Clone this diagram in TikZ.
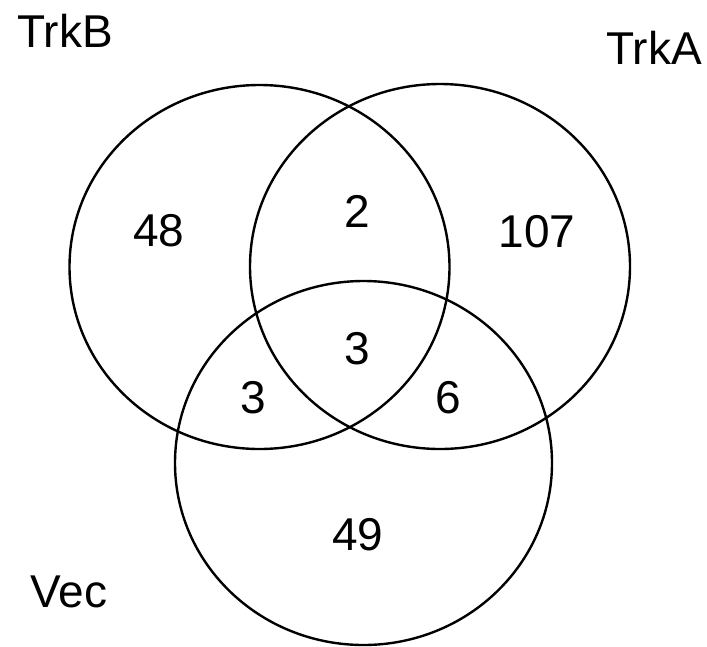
\documentclass[tikz,border=0pt]{standalone}
\usepackage{fontspec}
\setmainfont{Liberation Sans}
\begin{document}
\begin{tikzpicture}[x=1pt,y=-1pt,
  venn/.style={draw=black, line width=2.4pt},
  lbl/.style={anchor=base, inner sep=0pt, font=\fontsize{46}{46}\selectfont}]
\useasboundingbox (0,0) rectangle (707,646);
\fill[white] (0,0) rectangle (707,646);
% sets
\draw[venn] (259.5,267) ellipse [x radius=190pt, y radius=182pt];
\draw[venn] (440,266.5) ellipse [x radius=190pt, y radius=182.5pt];
\draw[venn] (363.5,463) ellipse [x radius=188.5pt, y radius=182pt];
% set names
\node[lbl] (nB) at (65,47) {TrkB};
\node[lbl] (nA) at (654,64) {TrkA};
\node[lbl] (nV) at (69,607) {Vec};
% counts
\node[lbl] (c48) at (159,246) {48};
\node[lbl] (c2) at (357,227) {2};
\node[lbl] (c107) at (537,247) {107};
\node[lbl] (c3m) at (357,364) {3};
\node[lbl] (c3l) at (253,413) {3};
\node[lbl] (c6) at (448,413) {6};
\node[lbl] (c49) at (358,550) {49};
\end{tikzpicture}
\end{document}
